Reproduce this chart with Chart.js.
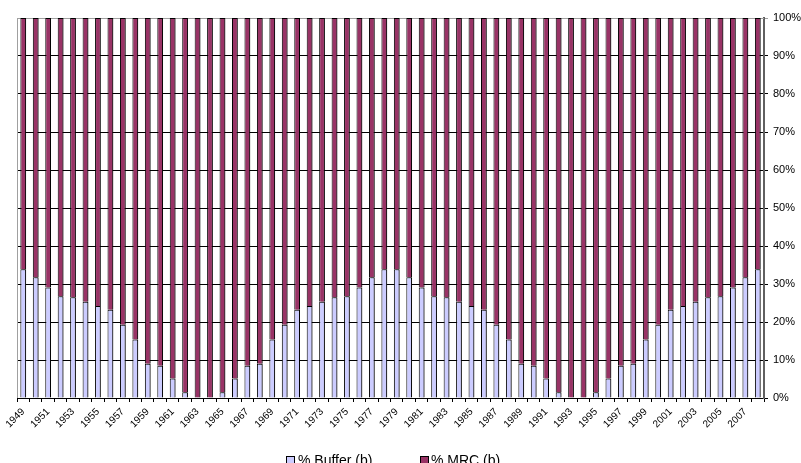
<!DOCTYPE html>
<html lang="en">
<head>
<meta charset="UTF-8">
<title>% Buffer / % MRC</title>
<script src="https://cdn.jsdelivr.net/npm/chart.js"></script>
<style>
  html, body { margin: 0; padding: 0; background: #fff; overflow: hidden; }
  .wrap { position: relative; width: 801px; height: 463px; overflow: hidden; }
  canvas { position: absolute; left: 0; top: 0; }
  .legend { position: absolute; top: 452px; left: 0; font: 14px Arial, "Liberation Sans", sans-serif; line-height: 16px; color: #000; }
  .legend span { position: absolute; white-space: nowrap; }
  .legend i { position: absolute; top: 4px; width: 7px; height: 8px; border: 1px solid #000; }
</style>
</head>
<body>
<div class="wrap">
  <canvas id="chart" width="801" height="463"></canvas>
  <div class="legend">
    <i style="left:286px; background:#ccccff"></i><span style="left:298px">% Buffer (b)</span>
    <i style="left:420px; background:#993366"></i><span style="left:431px">% MRC (b)</span>
  </div>
</div>
<script>
// years 1949 - 2008, labels shown every other year
const years = ['1949','1950','1951','1952','1953','1954','1955','1956','1957','1958',
  '1959','1960','1961','1962','1963','1964','1965','1966','1967','1968',
  '1969','1970','1971','1972','1973','1974','1975','1976','1977','1978',
  '1979','1980','1981','1982','1983','1984','1985','1986','1987','1988',
  '1989','1990','1991','1992','1993','1994','1995','1996','1997','1998',
  '1999','2000','2001','2002','2003','2004','2005','2006','2007','2008'];

const bufferPct = [33.9, 31.8, 29.1, 26.8, 26.5, 25.3, 24.2, 23.2, 19.3, 15.4,
  9.0, 8.5, 5.1, 1.5, 0, 0, 1.5, 5.1, 8.5, 9.0,
  15.4, 19.3, 23.2, 24.2, 25.3, 26.5, 26.8, 29.1, 31.8, 33.9,
  33.9, 31.8, 29.1, 26.8, 26.5, 25.3, 24.2, 23.2, 19.3, 15.4,
  9.0, 8.5, 5.1, 1.5, 0, 0, 1.5, 5.1, 8.5, 9.0,
  15.4, 19.3, 23.2, 24.2, 25.3, 26.5, 26.8, 29.1, 31.8, 33.9];

const mrcPct = [66.1, 68.2, 70.9, 73.2, 73.5, 74.7, 75.8, 76.8, 80.7, 84.6,
  91.0, 91.5, 94.9, 98.5, 100, 100, 98.5, 94.9, 91.5, 91.0,
  84.6, 80.7, 76.8, 75.8, 74.7, 73.5, 73.2, 70.9, 68.2, 66.1,
  66.1, 68.2, 70.9, 73.2, 73.5, 74.7, 75.8, 76.8, 80.7, 84.6,
  91.0, 91.5, 94.9, 98.5, 100, 100, 98.5, 94.9, 91.5, 91.0,
  84.6, 80.7, 76.8, 75.8, 74.7, 73.5, 73.2, 70.9, 68.2, 66.1];

const yTicks = [0, 10, 20, 30, 40, 50, 60, 70, 80, 90, 100];

const FONT = 'Arial, "Liberation Sans", sans-serif';

// grey frame on top and left of the plot area
const framePlugin = {
  id: 'frame',
  beforeDatasetsDraw(chart) {
    const { ctx, chartArea: a } = chart;
    ctx.save();
    ctx.strokeStyle = '#a0a0a0';
    ctx.lineWidth = 1;
    ctx.beginPath();
    ctx.moveTo(a.left + 0.5, a.bottom);
    ctx.lineTo(a.left + 0.5, a.top + 0.5);
    ctx.lineTo(a.right, a.top + 0.5);
    ctx.stroke();
    ctx.restore();
  }
};

// small drop shadow on the right side of the bars
const shadowPlugin = {
  id: 'barShadow',
  beforeDatasetsDraw(chart) {
    const ctx = chart.ctx;
    ctx.save();
    ctx.shadowColor = 'rgba(0,0,0,0.4)';
    ctx.shadowOffsetX = 2;
    ctx.shadowOffsetY = 0;
    ctx.shadowBlur = 0;
  },
  afterDatasetsDraw(chart) {
    chart.ctx.restore();
  }
};

new Chart(document.getElementById('chart'), {
  type: 'bar',
  data: {
    labels: years,
    datasets: [
      {
        label: '% Buffer (b)',
        data: bufferPct,
        backgroundColor: '#ccccff',
        borderColor: '#000',
        borderWidth: 1,
        barPercentage: 0.46,
        categoryPercentage: 1
      },
      {
        label: '% MRC (b)',
        data: mrcPct,
        backgroundColor: '#993366',
        borderColor: '#000',
        borderWidth: 1,
        barPercentage: 0.46,
        categoryPercentage: 1
      }
    ]
  },
  options: {
    responsive: false,
    animation: false,
    layout: { padding: { left: 17, top: 18, right: 0, bottom: 0 } },
    plugins: {
      legend: { display: false },
      tooltip: { enabled: false }
    },
    scales: {
      x: {
        stacked: true,
        afterFit(scale) { scale.height = 65; },
        grid: {
          offset: true,
          drawOnChartArea: false,
          drawTicks: true,
          tickLength: 4,
          color: '#000'
        },
        border: { color: '#000', width: 1 },
        ticks: {
          autoSkip: false,
          maxRotation: 45,
          minRotation: 45,
          padding: 4,
          color: '#000',
          font: { family: FONT, size: 10 },
          callback(value, index) {
            return index % 2 === 0 ? years[index] : '';
          }
        }
      },
      y: {
        stacked: true,
        position: 'right',
        min: 0,
        max: 100,
        afterFit(scale) { scale.width = 37; },
        afterBuildTicks(scale) {
          scale.ticks = yTicks.map(v => ({ value: v }));
        },
        grid: {
          color: ctx => (ctx.tick && ctx.tick.value === 100 ? '#a0a0a0' : '#000'),
          lineWidth: 1,
          tickLength: 4
        },
        border: { color: '#606060', width: 2 },
        ticks: {
          padding: 5,
          color: '#000',
          font: { family: FONT, size: 11 },
          callback: v => v + '%'
        }
      }
    }
  },
  plugins: [framePlugin, shadowPlugin]
});
</script>
</body>
</html>
